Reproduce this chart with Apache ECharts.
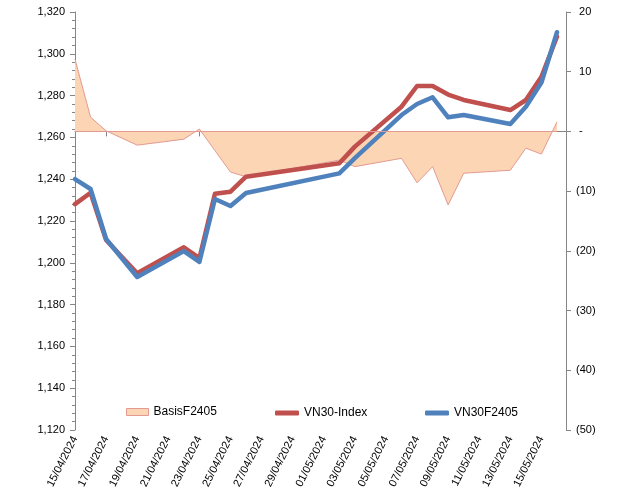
<!DOCTYPE html>
<html>
<head>
<meta charset="utf-8">
<script src="https://cdn.jsdelivr.net/npm/echarts@6/dist/echarts.min.js"></script>
<style>
html,body{margin:0;padding:0;background:#fff;}
#c{width:640px;height:499px;}
</style>
</head>
<body>
<div id="c"></div>
<script>
// ---- data ----
var dates = ['15/04/2024','16/04/2024','17/04/2024','19/04/2024','22/04/2024','23/04/2024','24/04/2024','25/04/2024','26/04/2024','02/05/2024','03/05/2024','06/05/2024','07/05/2024','08/05/2024','09/05/2024','10/05/2024','13/05/2024','14/05/2024','15/05/2024','16/05/2024'];
var basisF2405 = [12.1, 2.4, 0.1, -2.3, -1.3, 0.4, -3.2, -6.8, -7.6, -4.8, -5.9, -4.5, -8.6, -5.9, -12.3, -7.0, -6.5, -2.8, -3.8, 1.6];
var vn30Index = [1228.1, 1233.5, 1210.9, 1195.0, 1207.4, 1202.2, 1233.0, 1234.0, 1241.2, 1247.6, 1255.6, 1274.7, 1284.6, 1284.6, 1280.5, 1277.9, 1273.1, 1277.9, 1289.0, 1308.2];
var vn30F2405 = [1240.0, 1235.3, 1211.4, 1193.2, 1205.6, 1200.4, 1230.5, 1227.2, 1233.4, 1242.8, 1250.1, 1270.7, 1276.0, 1279.2, 1269.6, 1270.7, 1266.4, 1274.7, 1286.2, 1310.3];
var xTickLabels = ['15/04/2024','17/04/2024','19/04/2024','21/04/2024','23/04/2024','25/04/2024','27/04/2024','29/04/2024','01/05/2024','03/05/2024','05/05/2024','07/05/2024','09/05/2024','11/05/2024','13/05/2024','15/05/2024'];
var leftTicks = [1120, 1320, 20];
var rightTicks = [-50, 20, 10];

// ---- helpers ----
function dayNum(s){ var p = s.split('/'); return Date.UTC(+p[2], +p[1]-1, +p[0]) / 86400000; }
var d0 = dayNum(dates[0]);
function off(s){ return dayNum(s) - d0; }
function pad2(n){ return (n<10?'0':'')+n; }
function labelFor(v){ var d = new Date((d0 + v) * 86400000); return pad2(d.getUTCDate())+'/'+pad2(d.getUTCMonth()+1)+'/'+d.getUTCFullYear(); }
function pairs(arr){ return dates.map(function(d,i){ return [off(d), arr[i]]; }); }
var tickVals = xTickLabels.map(off);

var axisGray = '#868686';
var font = 'Liberation Sans, Arial, sans-serif';

var chart = echarts.init(document.getElementById('c'), null, {renderer:'canvas'});
chart.setOption({
  animation: false,
  backgroundColor: '#fff',
  grid: {left: 75, right: 74, top: 12, bottom: 69, containLabel: false},
  legend: [
    {data:[{name:'BasisF2405', icon:'rect', itemStyle:{color:'#FCD5B5', borderColor:'#E39A92', borderWidth:1}}],
     left: 126, top: 406, padding: 0, itemWidth: 22, itemHeight: 7, textStyle:{fontSize:12, color:'#000', fontFamily:font}},
    {data:[{name:'VN30-Index', icon:'roundRect', itemStyle:{color:'#C0504D'}}],
     left: 275, top: 407, padding: 0, itemWidth: 24, itemHeight: 5, textStyle:{fontSize:12, color:'#000', fontFamily:font}},
    {data:[{name:'VN30F2405', icon:'roundRect', itemStyle:{color:'#4F81BD'}}],
     left: 425, top: 407, padding: 0, itemWidth: 24, itemHeight: 5, textStyle:{fontSize:12, color:'#000', fontFamily:font}}
  ],
  xAxis: {
    type: 'value', min: 0, max: 31.58,
    axisLine: {show:true, lineStyle:{color:axisGray, width:1}},
    axisTick: {show:true, length:5, lineStyle:{color:axisGray}, customValues: tickVals},
    axisLabel: {show:true, rotate: 63, margin: 7, fontSize: 11, color:'#000', fontFamily:font,
      customValues: tickVals, formatter: function(v){ return labelFor(v); }},
    splitLine: {show:false}
  },
  yAxis: [
    {type:'value', min: leftTicks[0], max: leftTicks[1], interval: leftTicks[2], position:'left',
     axisLine:{show:true, lineStyle:{color:axisGray}},
     axisTick:{show:true, length:5, lineStyle:{color:axisGray}},
     minorTick:{show:true, splitNumber:5, length:3, lineStyle:{color:axisGray}},
     axisLabel:{fontSize:11, color:'#000', fontFamily:font, margin:10,
       formatter:function(v){ return v.toLocaleString('en-US'); }},
     splitLine:{show:false}},
    {type:'value', min: rightTicks[0], max: rightTicks[1], interval: rightTicks[2], position:'right',
     axisLine:{show:true, onZero:false, lineStyle:{color:axisGray}},
     axisTick:{show:true, length:5, lineStyle:{color:axisGray}},
     axisLabel:{fontSize:11, color:'#000', fontFamily:font, margin:10, align:'left',
       formatter:function(v){ if (v>0) return ' '+v; if (v===0) return ' -'; return '('+(-v)+')'; }},
     splitLine:{show:false}}
  ],
  series: [
    {name:'BasisF2405', type:'line', yAxisIndex:1, data: pairs(basisF2405), symbol:'none',
     lineStyle:{color:'#E39A92', width:1}, itemStyle:{color:'#FCD5B5'},
     areaStyle:{color:'#FCD5B5', opacity:1, origin:0},
     markLine:{silent:true, symbol:'none', label:{show:false},
       lineStyle:{color:'#E39A92', width:1, type:'solid'},
       data:[[{coord:[off(dates[0]),0]},{coord:[off(dates[dates.length-1]),0]}]]}},
    {name:'VN30-Index', type:'line', yAxisIndex:0, data: pairs(vn30Index), symbol:'none',
     lineStyle:{color:'#C0504D', width:4.5, cap:'round', join:'round'}, itemStyle:{color:'#C0504D'}},
    {name:'VN30F2405', type:'line', yAxisIndex:0, data: pairs(vn30F2405), symbol:'none',
     lineStyle:{color:'#4F81BD', width:4.5, cap:'round', join:'round'}, itemStyle:{color:'#4F81BD'}}
  ]
});
</script>
</body>
</html>
